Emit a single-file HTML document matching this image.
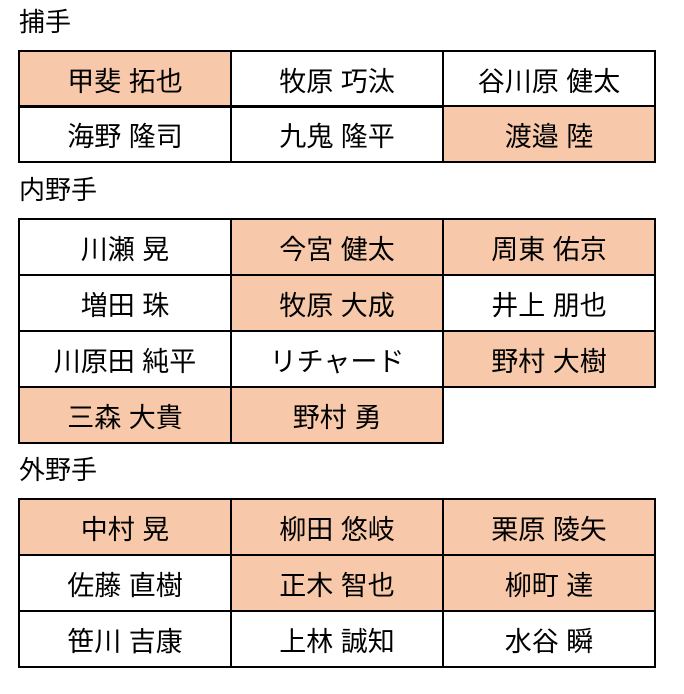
<!DOCTYPE html>
<html><head><meta charset="utf-8"><style>
body{margin:0;width:684px;height:694px;background:#fff;position:relative;font-family:"Liberation Sans","Noto Sans CJK JP",sans-serif;}
.h{position:absolute;left:19px;font-size:26px;line-height:28px;color:#000;}
.c{position:absolute;width:214px;height:58px;box-sizing:border-box;border:2px solid #000;display:flex;align-items:center;justify-content:center;font-size:27px;color:#000;}
.o{background:#f7c9aa;}
</style></head><body>
<div class="h" style="top:8px">捕手</div>
<div class="c o" style="left:18px;top:50px">甲斐 拓也</div>
<div class="c" style="left:230px;top:50px">牧原 巧汰</div>
<div class="c" style="left:442px;top:50px">谷川原 健太</div>
<div class="c" style="left:18px;top:105px">海野 隆司</div>
<div class="c" style="left:230px;top:105px">九鬼 隆平</div>
<div class="c o" style="left:442px;top:105px">渡邉 陸</div>

<div class="h" style="top:176px">内野手</div>
<div class="c" style="left:18px;top:218px">川瀬 晃</div>
<div class="c o" style="left:230px;top:218px">今宮 健太</div>
<div class="c o" style="left:442px;top:218px">周東 佑京</div>
<div class="c" style="left:18px;top:274px">増田 珠</div>
<div class="c o" style="left:230px;top:274px">牧原 大成</div>
<div class="c" style="left:442px;top:274px">井上 朋也</div>
<div class="c" style="left:18px;top:330px">川原田 純平</div>
<div class="c" style="left:230px;top:330px">リチャード</div>
<div class="c o" style="left:442px;top:330px">野村 大樹</div>
<div class="c o" style="left:18px;top:386px">三森 大貴</div>
<div class="c o" style="left:230px;top:386px">野村 勇</div>

<div class="h" style="top:456px">外野手</div>
<div class="c o" style="left:18px;top:498px">中村 晃</div>
<div class="c o" style="left:230px;top:498px">柳田 悠岐</div>
<div class="c o" style="left:442px;top:498px">栗原 陵矢</div>
<div class="c" style="left:18px;top:554px">佐藤 直樹</div>
<div class="c o" style="left:230px;top:554px">正木 智也</div>
<div class="c o" style="left:442px;top:554px">柳町 達</div>
<div class="c" style="left:18px;top:610px">笹川 吉康</div>
<div class="c" style="left:230px;top:610px">上林 誠知</div>
<div class="c" style="left:442px;top:610px">水谷 瞬</div>
</body></html>
